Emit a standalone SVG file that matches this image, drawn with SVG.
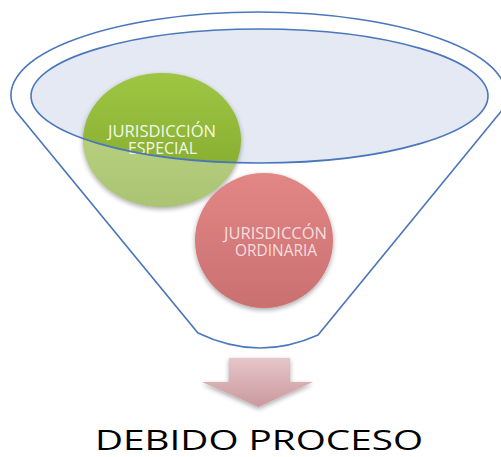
<svg xmlns="http://www.w3.org/2000/svg" width="501" height="457" viewBox="0 0 501 457">
<style>
.ln{fill:none;stroke:#4a77bb;stroke-width:1.6}
.lbl{font-family:"Open Sans","Liberation Sans",sans-serif;font-size:15.5px;text-anchor:middle}
</style>
<defs>
<linearGradient id="gG" x1="0" y1="0" x2="0" y2="1">
<stop offset="0" stop-color="#9fc643"/><stop offset="1" stop-color="#7ea52a"/>
</linearGradient>
<linearGradient id="gR" x1="0" y1="0" x2="0" y2="1">
<stop offset="0" stop-color="#e38686"/><stop offset="1" stop-color="#c97070"/>
</linearGradient>
<linearGradient id="gA" x1="0" y1="0" x2="0" y2="1">
<stop offset="0" stop-color="#e7c5c8"/><stop offset="1" stop-color="#c9999e"/>
</linearGradient>
<filter id="sh" x="-20%" y="-20%" width="140%" height="140%">
<feGaussianBlur in="SourceAlpha" stdDeviation="2.5"/>
<feOffset dy="2"/>
<feComponentTransfer><feFuncA type="linear" slope="0.35"/></feComponentTransfer>
<feMerge><feMergeNode/><feMergeNode in="SourceGraphic"/></feMerge>
</filter>
<mask id="outside">
<rect width="501" height="457" fill="#fff"/>
<ellipse cx="259.5" cy="96" rx="228.5" ry="67" fill="#000"/>
</mask>
</defs>
<g id="funnel">
<path class="ln" d="M15.6,111 A247.5,83 0 1 1 501.4,111 L318,335 Q258,362 198,333 Z" style="fill:#fff"/>
<ellipse cx="259.5" cy="96" rx="228.5" ry="67" fill="#e4e9f3"/>
</g>
<g id="especial">
<ellipse cx="162" cy="140" rx="79" ry="67" fill="url(#gG)" filter="url(#sh)"/>
<ellipse cx="162" cy="140" rx="79" ry="67" fill="#fff" opacity="0.35" mask="url(#outside)"/>
<text class="lbl" fill="#f4f8ea"><tspan x="162" y="137" textLength="108" lengthAdjust="spacingAndGlyphs">JURISDICCIÓN</tspan><tspan x="162.5" y="154" textLength="69" lengthAdjust="spacingAndGlyphs">ESPECIAL</tspan></text>
</g>
<ellipse class="ln" cx="259.5" cy="96" rx="228.5" ry="67"/>
<g id="ordinaria">
<ellipse cx="264" cy="240.5" rx="69" ry="67.5" fill="url(#gR)" filter="url(#sh)"/>
<text class="lbl" fill="#f6dede"><tspan x="275.5" y="239" textLength="103" lengthAdjust="spacingAndGlyphs">JURISDICCÓN</tspan><tspan x="276" y="256" textLength="82" lengthAdjust="spacingAndGlyphs">ORDINARIA</tspan></text>
</g>
<g id="connectors">
<path d="M229,358 H290 V382 H313 L258.5,407 L202,382 H229 Z" fill="url(#gA)" filter="url(#sh)"/>
</g>
<g id="result">
<text x="259" y="450" font-family="'Open Sans','Liberation Sans',sans-serif" font-size="27" text-anchor="middle" textLength="328" lengthAdjust="spacingAndGlyphs" fill="#000">DEBIDO PROCESO</text>
</g>
</svg>
